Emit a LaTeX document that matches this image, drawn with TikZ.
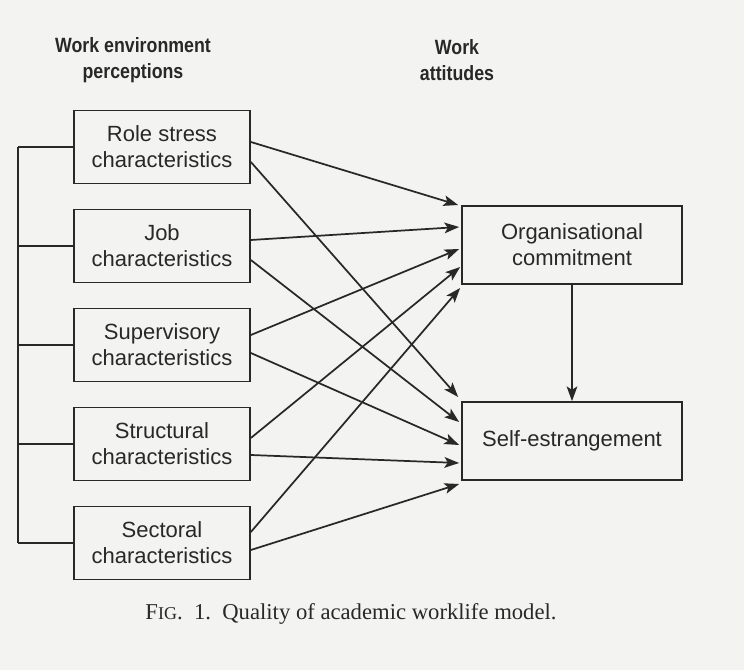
\documentclass[tikz,border=0pt]{standalone}
\usepackage{fontspec}
\setmainfont{Liberation Sans}
\newfontfamily\capfont{Liberation Serif}
\newfontfamily\headfont[FakeStretch=0.86]{Liberation Sans}
\usetikzlibrary{arrows.meta,calc}
\definecolor{paper}{RGB}{243,243,241}
\definecolor{ink}{RGB}{40,40,40}
\begin{document}
\begin{tikzpicture}[x=0.75pt,y=-0.75pt,
  every node/.style={text=ink},
  leftbox/.style={draw=ink,line width=1.3pt,minimum width=132pt,minimum height=54.75pt,
    align=center,inner sep=0pt,font=\fontsize{16.5}{19.5}\selectfont},
  rightbox/.style={draw=ink,line width=1.3pt,minimum width=165pt,minimum height=58.5pt,
    align=center,inner sep=0pt,font=\fontsize{16.5}{19.5}\selectfont},
  heading/.style={align=center,font=\headfont\bfseries\fontsize{15.5}{20}\selectfont},
  link/.style={draw=ink,line width=1.3pt,-{Stealth[length=11pt,width=8pt,inset=2.5pt]}},
  bracket/.style={draw=ink,line width=1.3pt}]
  % page
  \fill[paper] (0,0) rectangle (744,670);
  \useasboundingbox (0,0) rectangle (744,670);

  % column headings
  \node[heading] (hl) at (133,60) {Work environment\\perceptions};
  \node[heading] (hr) at (457,60) {Work\\attitudes};

  % perception boxes
  \node[leftbox] (b1) at (162,147) {Role stress\\characteristics};
  \node[leftbox] (b2) at (162,246) {Job\\characteristics};
  \node[leftbox] (b3) at (162,345) {Supervisory\\characteristics};
  \node[leftbox] (b4) at (162,444) {Structural\\characteristics};
  \node[leftbox] (b5) at (162,543) {Sectoral\\characteristics};

  % attitude boxes
  \node[rightbox] (org) at (572,245) {Organisational\\commitment};
  \node[rightbox] (self) at (572,441) {Self-estrangement};

  % bracket joining the perception boxes
  \coordinate (bt) at (18,147);
  \coordinate (bb) at (18,543);
  \draw[bracket] (bt) -- (bb);
  \foreach \i in {1,...,5}
    \draw[bracket] (b\i.west) -- (b\i.west -| bt);

  % paths to organisational commitment
  \draw[link] ($(b1.east)+(0,-5)$)  -- ($(org.west)+(-3,-40)$);
  \draw[link] ($(b2.east)+(0,-6)$)  -- ($(org.west)+(-2,-18)$);
  \draw[link] ($(b3.east)+(0,-10)$) -- ($(org.west)+(-2,4)$);
  \draw[link] ($(b4.east)+(0,-6)$)  -- ($(org.west)+(-1,22)$);
  \draw[link] ($(b5.east)+(0,-11)$) -- ($(org.west)+(-1,43)$);

  % paths to self-estrangement
  \draw[link] ($(b1.east)+(0,15)$) -- ($(self.west)+(-3,-44)$);
  \draw[link] ($(b2.east)+(0,14)$) -- ($(self.west)+(-2,-19)$);
  \draw[link] ($(b3.east)+(0,8)$)  -- ($(self.west)+(-2,4)$);
  \draw[link] ($(b4.east)+(0,11)$) -- ($(self.west)+(-2,22)$);
  \draw[link] ($(b5.east)+(0,7)$)  -- ($(self.west)+(-2,43)$);

  % commitment to self-estrangement
  \draw[link] (org.south) -- (self.north);

  % caption
  \node[font=\capfont\fontsize{17}{20}\selectfont] (cap) at (351,614)
    {F{\fontsize{13.5}{20}\selectfont IG}.\ \ 1.\ \ Quality of academic worklife model.};
\end{tikzpicture}
\end{document}
